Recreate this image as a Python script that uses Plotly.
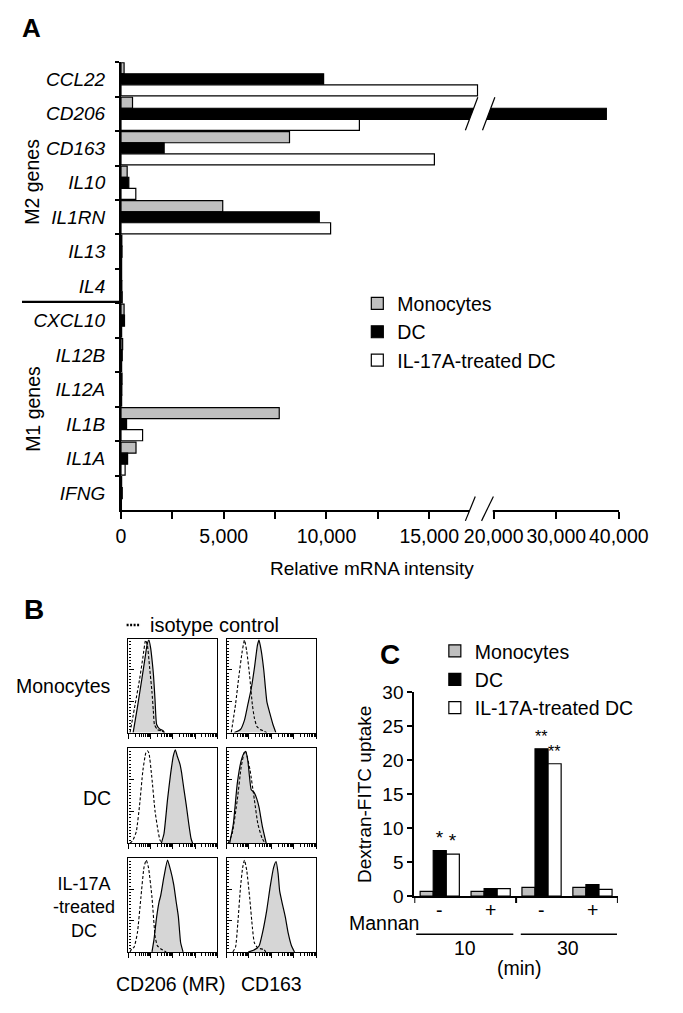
import numpy as np
import plotly.graph_objects as go

PAGE_W, PAGE_H = 683, 1013
OFF = 8  # default page body margin
W, H = PAGE_W - 2 * OFF, PAGE_H - 2 * OFF
FONT = "Liberation Sans, Arial, Helvetica, sans-serif"


def px(x):
    return (x - OFF) / W


def py(y):
    return 1 - (y - OFF) / H


# ---------------- Panel A data ----------------
genes = ["CCL22", "CD206", "CD163", "IL10", "IL1RN", "IL13", "IL4",
         "CXCL10", "IL12B", "IL12A", "IL1B", "IL1A", "IFNG"]
mono_mrna = [150, 560, 8200, 300, 4950, 40, 30, 150, 80, 50, 7700, 730, 30]
dc_mrna = [9860, 38000, 2100, 380, 9650, 50, 40, 170, 60, 40, 270, 320, 60]
il17_mrna = [17350, 11600, 15250, 720, 10200, 30, 60, 30, 30, 30, 1050, 200, 20]
series_names = ["Monocytes", "DC", "IL-17A-treated DC"]
series_colors = ["#bfbfbf", "#000000", "#ffffff"]
seg1_ticks = [0, 2500, 5000, 7500, 10000, 12500, 15000]
seg1_labels = ["0", "", "5,000", "", "10,000", "", "15,000"]
seg2_ticks = [20000, 30000, 40000]
seg2_labels = ["20,000", "30,000", "40,000"]

# ---------------- Panel C data ----------------
uptake_groups = ["10 min, -", "10 min, +", "30 min, -", "30 min, +"]
mannan_labels = ["-", "+", "-", "+"]
mono_uptake = [0.7, 0.7, 1.3, 1.3]
dc_uptake = [6.7, 1.1, 21.7, 1.7]
il17_uptake = [6.2, 1.1, 19.5, 1.0]
dc_signif = ["*", "", "**", ""]
il17_signif = ["*", "", "**", ""]
uptake_ticks = [0, 5, 10, 15, 20, 25, 30]

# ---------------- Panel B data (log10 fluorescence, relative count) ----------------
mono_cd206_iso_u = [0.07, 0.3, 0.5, 0.65, 0.77, 0.85, 0.95, 1.06, 1.12, 1.17, 1.3, 1.5, 1.62]
mono_cd206_iso_h = [0, 0.9, 1.7, 2.4, 2.95, 2.8, 2.1, 1.29, 0.7, 0.26, 0.1, 0.05, 0]
mono_cd206_u = [0.21, 0.4, 0.6, 0.75, 0.85, 0.92, 1.0, 1.08, 1.13, 1.2, 1.27, 1.4, 1.55, 1.62]
mono_cd206_h = [0, 0.8, 1.7, 2.4, 2.85, 2.95, 2.7, 2.2, 1.81, 1.0, 0.26, 0.12, 0.07, 0]

mono_cd163_iso_u = [0.21, 0.4, 0.55, 0.7, 0.8, 0.9, 1.03, 1.15, 1.24, 1.35, 1.5, 1.66, 1.8]
mono_cd163_iso_h = [0, 0.9, 1.8, 2.6, 2.95, 2.6, 1.81, 0.9, 0.47, 0.2, 0.1, 0.05, 0]
mono_cd163_u = [0.35, 0.62, 0.8, 0.95, 1.1, 1.25, 1.38, 1.45, 1.55, 1.66, 1.8, 1.93, 2.07, 2.2]
mono_cd163_h = [0, 0.1, 0.4, 0.9, 1.4, 2.1, 2.8, 2.95, 2.6, 2.0, 0.98, 0.62, 0.26, 0]

dc_cd206_iso_u = [0.07, 0.2, 0.35, 0.5, 0.65, 0.78, 0.85, 0.92, 1.05, 1.2, 1.34, 1.42, 1.5]
dc_cd206_iso_h = [0, 0.1, 0.36, 1.2, 2.3, 2.85, 2.92, 2.85, 2.1, 1.0, 0.36, 0.1, 0]
dc_cd206_u = [1.48, 1.6, 1.76, 1.9, 2.02, 2.11, 2.2, 2.32, 2.39, 2.5, 2.6, 2.72, 2.82, 2.89]
dc_cd206_h = [0, 0.3, 1.38, 2.2, 2.75, 2.95, 2.75, 2.5, 2.25, 1.7, 1.23, 0.6, 0.15, 0]

dc_cd163_iso_u = [0.07, 0.25, 0.48, 0.65, 0.78, 0.83, 0.9, 1.05, 1.24, 1.4, 1.59, 1.72]
dc_cd163_iso_h = [0, 0.3, 1.38, 2.4, 2.85, 2.92, 2.8, 2.3, 1.38, 0.6, 0.15, 0]
dc_cd163_u = [0.14, 0.3, 0.48, 0.65, 0.78, 0.86, 0.95, 1.1, 1.17, 1.24, 1.35, 1.45, 1.59, 1.77]
dc_cd163_h = [0, 0.6, 1.9, 2.6, 2.85, 2.9, 2.6, 1.69, 1.65, 1.59, 1.4, 1.13, 0.56, 0]

il17_cd206_iso_u = [0.07, 0.15, 0.25, 0.4, 0.56, 0.7, 0.8, 0.9, 1.06, 1.2, 1.3, 1.45, 1.62, 1.7]
il17_cd206_iso_h = [0, 0.1, 0.15, 0.6, 1.74, 2.7, 2.93, 2.7, 1.74, 0.5, 0.2, 0.1, 0.03, 0]
il17_cd206_u = [1.06, 1.15, 1.27, 1.38, 1.45, 1.6, 1.76, 1.9, 2.04, 2.15, 2.25, 2.35, 2.46]
il17_cd206_h = [0, 0.4, 1.12, 1.6, 1.79, 2.4, 2.93, 2.6, 2.15, 1.6, 1.12, 0.3, 0]

il17_cd163_iso_u = [0.28, 0.4, 0.5, 0.62, 0.72, 0.8, 0.9, 1.03, 1.15, 1.24, 1.4, 1.66, 1.75]
il17_cd163_iso_h = [0, 0.15, 0.9, 2.05, 2.7, 2.93, 2.6, 1.74, 0.8, 0.29, 0.12, 0.08, 0]
il17_cd163_u = [0.97, 1.2, 1.45, 1.6, 1.79, 1.95, 2.1, 2.21, 2.3, 2.37, 2.5, 2.62, 2.75, 2.9, 3.03]
il17_cd163_h = [0, 0.05, 0.19, 0.6, 1.32, 2.1, 2.7, 2.88, 2.5, 1.94, 1.5, 1.12, 0.6, 0.19, 0]

row_labels = ["Monocytes", "DC", "IL-17A<br>-treated<br>DC"]
col_labels = ["CD206 (MR)", "CD163"]

fig = go.Figure()

# ---------------- Panel A ----------------
A_L, A_BRK, A_R = 114, 497, 647
A_T, A_B = 53, 511
seg1_max = (A_BRK - A_L) / 110 * 5000
seg2_min = 20000 - (513 - A_BRK) / 67 * 10000
offsets = [-0.48, -0.16, 0.16]
for name, col, vals, off in zip(series_names, series_colors,
                                [mono_mrna, dc_mrna, il17_mrna], offsets):
    for xa, show in (("x", True), ("x2", False)):
        fig.add_trace(go.Bar(
            y=genes, x=vals, orientation="h", name=name,
            marker=dict(color=col, line=dict(color="black", width=1.2)),
            width=0.32, offset=off, xaxis=xa, yaxis="y",
            showlegend=show, legend="legend",
        ))

# ---------------- Panel C ----------------
for name, col, vals, txt in zip(series_names, series_colors,
                                [mono_uptake, dc_uptake, il17_uptake],
                                [["", "", "", ""], dc_signif, il17_signif]):
    fig.add_trace(go.Bar(
        x=uptake_groups, y=vals, name=name,
        marker=dict(color=col, line=dict(color="black", width=1.2)),
        text=txt, textposition="outside", cliponaxis=False,
        textfont=dict(size=19, color="black", family=FONT),
        outsidetextfont=dict(size=19, color="black", family=FONT),
        xaxis="x3", yaxis="y3", legend="legend2",
    ))

# ---------------- Panel B ----------------
hist_panels = [
    (mono_cd206_iso_u, mono_cd206_iso_h, mono_cd206_u, mono_cd206_h),
    (mono_cd163_iso_u, mono_cd163_iso_h, mono_cd163_u, mono_cd163_h),
    (dc_cd206_iso_u, dc_cd206_iso_h, dc_cd206_u, dc_cd206_h),
    (dc_cd163_iso_u, dc_cd163_iso_h, dc_cd163_u, dc_cd163_h),
    (il17_cd206_iso_u, il17_cd206_iso_h, il17_cd206_u, il17_cd206_h),
    (il17_cd163_iso_u, il17_cd163_iso_h, il17_cd163_u, il17_cd163_h),
]
col_dom = [(122, 217), (227, 323)]
row_dom = [(642, 738), (754, 851), (866, 962)]
major_u = [0, 1, 2, 3, 4]
minor_u = [d + np.log10(k) for d in range(4) for k in range(2, 10)]

layout_axes = {}
for i, (iu, ih, su, sh) in enumerate(hist_panels):
    n = 4 + i
    r, c = divmod(i, 2)
    fig.add_trace(go.Scatter(
        x=su, y=sh, mode="lines", fill="tozeroy", fillcolor="#d6d6d6",
        line=dict(color="black", width=1.2, shape="spline", smoothing=0.5),
        xaxis=f"x{n}", yaxis=f"y{n}", showlegend=False, hoverinfo="skip"))
    fig.add_trace(go.Scatter(
        x=iu, y=ih, mode="lines",
        line=dict(color="black", width=1.1, dash="3px,2px", shape="spline", smoothing=0.5),
        xaxis=f"x{n}", yaxis=f"y{n}", showlegend=False, hoverinfo="skip"))
    x0, x1 = col_dom[c]
    y0, y1 = row_dom[r]
    layout_axes[f"xaxis{n}"] = dict(
        domain=[px(x0), px(x1)], anchor=f"y{n}", range=[0, 4],
        showline=True, mirror=True, linecolor="black", linewidth=1.3,
        tickmode="array", tickvals=major_u, ticks="outside", ticklen=5,
        tickwidth=1.2, tickcolor="black", showticklabels=False,
        minor=dict(tickmode="array", tickvals=minor_u, ticks="outside",
                   ticklen=3, tickwidth=1, tickcolor="black"),
        showgrid=False, zeroline=False, fixedrange=True)
    layout_axes[f"yaxis{n}"] = dict(
        domain=[py(y1), py(y0)], anchor=f"x{n}", range=[0, 3],
        showline=True, mirror=True, linecolor="black", linewidth=1.3,
        tickmode="array", tickvals=[0, 1, 2, 3], ticks="inside", ticklen=5,
        tickwidth=1.2, tickcolor="black", showticklabels=False,
        minor=dict(tickmode="linear", tick0=0, dtick=0.1, ticks="inside",
                   ticklen=2.5, tickwidth=1, tickcolor="black"),
        showgrid=False, zeroline=False, fixedrange=True)

# ---------------- Annotations ----------------
anns = []


def ann(text, x, y, size=19.5, xanchor="center", yanchor="middle", **kw):
    d = dict(text=text, x=px(x), y=py(y), xref="paper", yref="paper",
             showarrow=False, xanchor=xanchor, yanchor=yanchor,
             font=dict(size=size, color="black", family=FONT))
    d.update(kw)
    anns.append(d)


ann("<b>A</b>", 18, 18, size=26)
ann("<b>B</b>", 21, 612, size=28)
ann("<b>C</b>", 402, 658, size=28)
ann("M2 genes", 19, 175, textangle=-90)
ann("M1 genes", 19, 407, textangle=-90)
ann("Relative mRNA intensity", 383, 570, size=19)
ann("isotype control", 143, 628, size=20, xanchor="left")
ann(row_labels[0], 105, 690, xanchor="right")
ann(row_labels[1], 105, 805, xanchor="right")
ann(row_labels[2], 74, 917, size=18)
ann(col_labels[0], 167, 995)
ann(col_labels[1], 275, 995)
ann("Mannan", 435, 932, xanchor="right")
for g, m in zip(uptake_groups, mannan_labels):
    anns.append(dict(text=m, x=g, xref="x3", y=py(932), yref="paper",
                     showarrow=False, font=dict(size=19.5, color="black", family=FONT)))
ann("10", 482, 958)
ann("30", 593, 958)
ann("(min)", 540, 978)

# ---------------- Shapes ----------------
shapes = []


def line(x0, y0, x1, y1, w=1.5, color="black", dash=None):
    s = dict(type="line", xref="paper", yref="paper", x0=px(x0), y0=py(y0),
             x1=px(x1), y1=py(y1), line=dict(color=color, width=w))
    if dash:
        s["line"]["dash"] = dash
    shapes.append(s)


def poly(points, color="white"):
    path = "M " + " L ".join(f"{px(a):.5f},{py(b):.5f}" for a, b in points) + " Z"
    shapes.append(dict(type="path", xref="paper", yref="paper", path=path,
                       fillcolor=color, line=dict(width=0), layer="above"))


# M2 / M1 separator
line(8, 298, 114, 298, w=2.2)
# axis break across the CD206 bar
poly([(483.6, 120.5), (495.2, 91), (513.4, 91), (501.8, 120.5)])
line(482.7, 122.7, 496, 89, w=1.2)
line(501, 122.7, 514.3, 89, w=1.2)
# axis break on the x axis
shapes.append(dict(type="rect", xref="paper", yref="paper", x0=px(487), x1=px(512),
                   y0=py(516), y1=py(507), fillcolor="white", line=dict(width=0)))
line(482.7, 521.7, 493.3, 496.7, w=1.2)
line(500, 521.7, 512.7, 496.7, w=1.2)
# isotype control dotted key
line(120, 628, 135, 628, w=2.5, dash="2px,1.5px")
# Panel C group ticks and time brackets
for xv in (-0.5, 1.5, 3.5):
    shapes.append(dict(type="line", xref="x3", yref="paper", x0=xv, x1=xv,
                       y0=py(905), y1=py(912), line=dict(color="black", width=2)))
line(430, 944, 534, 944, w=1.5)
line(542, 944, 645, 944, w=1.5)

# ---------------- Layout ----------------
fig.update_layout(
    width=W, height=H, margin=dict(l=0, r=0, t=0, b=0),
    paper_bgcolor="white", plot_bgcolor="rgba(0,0,0,0)",
    font=dict(family=FONT, color="black", size=18),
    barmode="group", bargap=0.23, bargroupgap=0,
    showlegend=True,
    legend=dict(x=px(367), y=py(329), xanchor="left", yanchor="middle",
                font=dict(size=19.5, family=FONT), bgcolor="rgba(0,0,0,0)",
                tracegroupgap=0, itemwidth=30),
    legend2=dict(x=px(450), y=py(684), xanchor="left", yanchor="middle",
                 font=dict(size=19.5, family=FONT), bgcolor="rgba(0,0,0,0)",
                 tracegroupgap=0, itemwidth=30),
    xaxis=dict(domain=[px(A_L), px(A_BRK)], anchor="y", range=[0, seg1_max],
               showline=True, linecolor="black", linewidth=2,
               tickmode="array", tickvals=seg1_ticks, ticktext=seg1_labels,
               ticks="outside", ticklen=7, tickwidth=2, tickcolor="black",
               tickfont=dict(size=19.5), ticklabeloverflow="allow",
               showgrid=False, zeroline=False),
    xaxis2=dict(domain=[px(A_BRK), px(A_R)], anchor="y", range=[seg2_min, 40000],
                showline=True, linecolor="black", linewidth=2,
                tickmode="array", tickvals=seg2_ticks, ticktext=seg2_labels,
                ticks="outside", ticklen=7, tickwidth=2, tickcolor="black",
                tickfont=dict(size=19.5), ticklabeloverflow="allow",
                showgrid=False, zeroline=False),
    yaxis=dict(domain=[py(A_B), py(A_T)], anchor="x", type="category",
               categoryorder="array", categoryarray=genes, autorange="reversed",
               showline=True, linecolor="black", linewidth=2,
               ticks="outside", tickson="boundaries", ticklen=4, tickwidth=2,
               tickcolor="black", tickfont=dict(size=19, style="italic"),
               ticklabelstandoff=10, showgrid=False, zeroline=False),
    xaxis3=dict(domain=[px(428), px(646)], anchor="y3", type="category",
                categoryorder="array", categoryarray=uptake_groups,
                range=[-0.5, 3.5], showline=True, linecolor="black", linewidth=2,
                ticks="", showticklabels=False, showgrid=False, zeroline=False),
    yaxis3=dict(domain=[py(905), py(697)], anchor="x3", range=[0, 30],
                showline=True, linecolor="black", linewidth=2,
                tickmode="array", tickvals=uptake_ticks, ticks="outside",
                ticklen=5, tickwidth=2, tickcolor="black",
                tickfont=dict(size=19), showgrid=False, zeroline=False,
                title=dict(text="Dextran-FITC uptake", font=dict(size=19), standoff=6)),
    annotations=anns, shapes=shapes,
)
fig.update_layout(**layout_axes)

fig.write_html("out.html")
